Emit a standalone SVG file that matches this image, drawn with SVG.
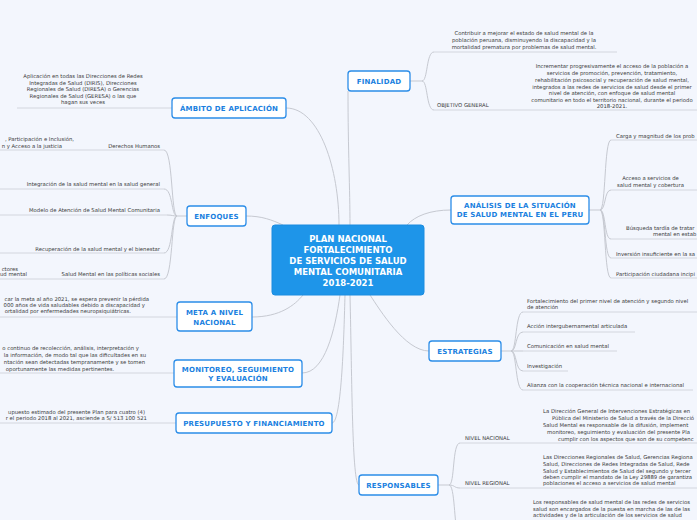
<svg xmlns="http://www.w3.org/2000/svg" width="697" height="520" viewBox="0 0 697 520">
<style>
.bg{fill:#f3f6fd}
.c{fill:none;stroke:#c6c9d1;stroke-width:1}
.u{fill:none;stroke:#d3d6de;stroke-width:1}
.node rect{fill:#ffffff;stroke:#2b8de8;stroke-width:1.3}
.lbl{font-family:"DejaVu Sans",sans-serif;font-weight:bold;font-size:7px;fill:#1a7fe0;text-anchor:middle;letter-spacing:0.2px}
.leaf{font-family:"DejaVu Sans",sans-serif;font-size:5.3px;fill:#3a3a3a}
.m{text-anchor:middle}
.e{text-anchor:end}
.ctr rect{fill:#1e95e9;stroke:#1b8ce0;stroke-width:1}
.ctxt{font-family:"DejaVu Sans",sans-serif;font-weight:bold;font-size:8.5px;fill:#ffffff;text-anchor:middle}
</style>
<rect class="bg" x="0" y="0" width="697" height="520"/>
<g id="connectors">
<path class="c" d="M286,108 C320,108 339,170 339,225"/>
<path class="c" d="M348,91 C348,150 350,190 350,225"/>
<path class="c" d="M246,216 C262,216 272,220 283,225"/>
<path class="c" d="M451,210 C430,210 415,216 407,225"/>
<path class="c" d="M252,317 C280,317 295,305 303,295"/>
<path class="c" d="M302,373 C325,373 335,330 340,295"/>
<path class="c" d="M332,423 C342,423 344,330 345,295"/>
<path class="c" d="M359,485 C352,485 352,380 350,295"/>
<path class="c" d="M429,351 C405,351 380,310 370,295"/>
<!-- ambito -->
<path class="u" d="M172,108 L17,108"/>
<!-- enfoques -->
<path class="c" d="M187,216 L177,216 C171,216 173,150 164,150"/>
<path class="c" d="M177,216 C171,216 173,189 164,189"/>
<path class="c" d="M177,216 C173,216 172,215 167,215"/>
<path class="c" d="M177,216 C171,216 173,253 164,253"/>
<path class="c" d="M177,216 C171,216 173,279 164,279"/>
<path class="u" d="M164,150 L0,150 M164,189 L0,189 M167,215 L0,215 M164,253 L0,253 M164,279 L0,279"/>
<!-- meta / monitoreo / presupuesto -->
<path class="u" d="M177,317 L0,317 M174,373 L0,373 M176,423 L0,423"/>
<!-- finalidad -->
<path class="c" d="M410,81 L422,81 C428,81 426,52 434,52"/>
<path class="c" d="M422,81 C428,81 426,110 434,110"/>
<path class="u" d="M434,52 L617,52 M434,110 L697,110"/>
<!-- analisis -->
<path class="c" d="M589,210 L600,210 C606,210 604,140 611,140"/>
<path class="c" d="M600,210 C606,210 604,190 611,190"/>
<path class="c" d="M600,210 C606,210 604,239 611,239"/>
<path class="c" d="M600,210 C606,210 604,258 611,258"/>
<path class="c" d="M600,210 C606,210 604,278 611,278"/>
<path class="u" d="M611,140 L697,140 M611,190 L697,190 M611,239 L697,239 M611,258 L697,258 M611,278 L697,278"/>
<!-- estrategias -->
<path class="c" d="M501,351 L511,351 C517,351 515,312 523,312"/>
<path class="c" d="M511,351 C517,351 515,332 523,332"/>
<path class="c" d="M511,351 L523,351"/>
<path class="c" d="M511,351 C517,351 515,371 523,371"/>
<path class="c" d="M511,351 C517,351 515,390 523,390"/>
<path class="u" d="M523,312 L697,312 M523,332 L635,332 M523,351 L617,351 M523,371 L568,371 M523,390 L693,390"/>
<!-- responsables -->
<path class="c" d="M438,485 L449,485 C455,485 452,443 460,443"/>
<path class="c" d="M449,485 C455,485 454,488 460,488"/>
<path class="c" d="M449,485 C455,485 454,525 458,535"/>
<path class="u" d="M460,443 L697,443 M460,488 L697,488"/>
</g>
<g id="center" class="ctr">
<rect x="272" y="225" width="152" height="70" rx="3"/>
<text class="ctxt" x="348" y="242">PLAN NACIONAL</text>
<text class="ctxt" x="348" y="253">FORTALECIMIENTO</text>
<text class="ctxt" x="348" y="264">DE SERVICIOS DE SALUD</text>
<text class="ctxt" x="348" y="275">MENTAL COMUNITARIA</text>
<text class="ctxt" x="348" y="286">2018-2021</text>
</g>
<g id="n-finalidad" class="node">
<rect x="348" y="71" width="62" height="20" rx="3"/>
<text class="lbl" x="379" y="83.5">FINALIDAD</text>
</g>
<g id="n-ambito" class="node">
<rect x="172" y="98" width="114" height="20" rx="3"/>
<text class="lbl" x="229" y="110.5">ÁMBITO DE APLICACIÓN</text>
</g>
<g id="n-enfoques" class="node">
<rect x="187" y="206" width="59" height="20" rx="3"/>
<text class="lbl" x="216.5" y="218.5">ENFOQUES</text>
</g>
<g id="n-meta" class="node">
<rect x="177" y="302" width="75" height="29" rx="3"/>
<text class="lbl" x="214.5" y="315">META A NIVEL</text>
<text class="lbl" x="214.5" y="324.5">NACIONAL</text>
</g>
<g id="n-monitoreo" class="node">
<rect x="174" y="360" width="128" height="27" rx="3"/>
<text class="lbl" x="238" y="371.5">MONITOREO, SEGUIMIENTO</text>
<text class="lbl" x="238" y="381">Y EVALUACIÓN</text>
</g>
<g id="n-presupuesto" class="node">
<rect x="176" y="413" width="156" height="20" rx="3"/>
<text class="lbl" x="254" y="425.5">PRESUPUESTO Y FINANCIAMIENTO</text>
</g>
<g id="n-analisis" class="node">
<rect x="451" y="196" width="138" height="28" rx="3"/>
<text class="lbl" x="520" y="207.5">ANÁLISIS DE LA SITUACIÓN</text>
<text class="lbl" x="520" y="217">DE SALUD MENTAL EN EL PERU</text>
</g>
<g id="n-estrategias" class="node">
<rect x="429" y="341" width="72" height="20" rx="3"/>
<text class="lbl" x="465" y="353.5">ESTRATEGIAS</text>
</g>
<g id="n-responsables" class="node">
<rect x="359" y="475" width="79" height="20" rx="3"/>
<text class="lbl" x="398.5" y="487.5">RESPONSABLES</text>
</g>
<g id="leaves-ambito">
<text class="leaf m" x="83" y="78">Aplicación en todas las Direcciones de Redes</text>
<text class="leaf m" x="83" y="84.5">Integradas de Salud (DIRIS), Direcciones</text>
<text class="leaf m" x="83" y="91">Regionales de Salud (DIRESA) o Gerencias</text>
<text class="leaf m" x="83" y="97.5">Regionales de Salud (GERESA) o las que</text>
<text class="leaf m" x="83" y="104">hagan sus veces</text>
</g>
<g id="leaves-enfoques">
<text class="leaf e" x="160" y="147.5">Derechos Humanos</text>
<text class="leaf e" x="74" y="141">, Participación e Inclusión,</text>
<text class="leaf e" x="62" y="147.5">n y Acceso a la justicia</text>
<text class="leaf e" x="160" y="186">Integración de la salud mental en la salud general</text>
<text class="leaf e" x="160" y="212">Modelo de Atención de Salud Mental Comunitaria</text>
<text class="leaf e" x="160" y="251">Recuperación de la salud mental y el bienestar</text>
<text class="leaf e" x="160" y="276">Salud Mental en las políticas sociales</text>
<text class="leaf e" x="18" y="271">ctores</text>
<text class="leaf e" x="27" y="276">ud mental</text>
</g>
<g id="leaves-meta">
<text class="leaf e" x="149" y="301">car la meta al año 2021, se espera prevenir la pérdida</text>
<text class="leaf e" x="145" y="307">000 años de vida saludables debido a discapacidad y</text>
<text class="leaf e" x="131" y="313">ortalidad por enfermedades neuropsiquiátricas.</text>
</g>
<g id="leaves-monitoreo">
<text class="leaf e" x="139" y="350">o continuo de recolección, análisis, interpretación y</text>
<text class="leaf e" x="146" y="357">la información, de modo tal que las dificultades en su</text>
<text class="leaf e" x="145" y="364">ntación sean detectadas tempranamente y se tomen</text>
<text class="leaf m" x="60" y="371">oportunamente las medidas pertinentes.</text>
</g>
<g id="leaves-presupuesto">
<text class="leaf e" x="145" y="413.5">upuesto estimado del presente Plan para cuatro (4)</text>
<text class="leaf e" x="147" y="420">r el periodo 2018 al 2021, asciende a S/ 513 100 521</text>
</g>
<g id="leaves-finalidad">
<text class="leaf m" x="524" y="35">Contribuir a mejorar el estado de salud mental de la</text>
<text class="leaf m" x="524" y="42">población peruana, disminuyendo la discapacidad y la</text>
<text class="leaf m" x="524" y="48.5">mortalidad prematura por problemas de salud mental.</text>
<text class="leaf" x="437" y="107">OBJETIVO GENERAL</text>
<text class="leaf m" x="612" y="67.5">Incrementar progresivamente el acceso de la población a</text>
<text class="leaf m" x="612" y="75">servicios de promoción, prevención, tratamiento,</text>
<text class="leaf m" x="612" y="82">rehabilitación psicosocial y recuperación de salud mental,</text>
<text class="leaf m" x="612" y="88.5">integrados a las redes de servicios de salud desde el primer</text>
<text class="leaf m" x="612" y="95">nivel de atención, con enfoque de salud mental</text>
<text class="leaf m" x="612" y="102">comunitario en todo el territorio nacional, durante el periodo</text>
<text class="leaf m" x="612" y="108">2018-2021.</text>
</g>
<g id="leaves-analisis">
<text class="leaf" x="616" y="137.5">Carga y magnitud de los prob</text>
<text class="leaf m" x="650.5" y="179.5">Acceso a servicios de</text>
<text class="leaf m" x="650.5" y="187">salud mental y cobertura</text>
<text class="leaf" x="626" y="229.5">Búsqueda tardía de tratar</text>
<text class="leaf" x="653" y="236">mental en estab</text>
<text class="leaf" x="616" y="256">Inversión insuficiente en la sa</text>
<text class="leaf" x="616" y="276">Participación ciudadana incipi</text>
</g>
<g id="leaves-estrategias">
<text class="leaf" x="527" y="302.5">Fortalecimiento del primer nivel de atención y segundo nivel</text>
<text class="leaf" x="527" y="309">de atención</text>
<text class="leaf" x="527" y="328">Acción intergubernamental articulada</text>
<text class="leaf" x="527" y="348">Comunicación en salud mental</text>
<text class="leaf" x="527" y="367.5">Investigación</text>
<text class="leaf" x="527" y="387">Alianza con la cooperación técnica nacional e internacional</text>
</g>
<g id="leaves-responsables">
<text class="leaf" x="465" y="440">NIVEL NACIONAL</text>
<text class="leaf" x="543" y="413">La Dirección General de Intervenciones Estratégicas en</text>
<text class="leaf" x="552" y="420">Pública del Ministerio de Salud a través de la Direcció</text>
<text class="leaf" x="543" y="427">Salud Mental es responsable de la difusión, implement</text>
<text class="leaf" x="547" y="434">monitoreo, seguimiento y evaluación del presente Pla</text>
<text class="leaf" x="558" y="440.5">cumplir con los aspectos que son de su competenc</text>
<text class="leaf" x="465" y="485">NIVEL REGIONAL</text>
<text class="leaf" x="543" y="459">Las Direcciones Regionales de Salud, Gerencias Regiona</text>
<text class="leaf" x="543" y="466">Salud, Direcciones de Redes Integradas de Salud, Rede</text>
<text class="leaf" x="543" y="472.5">Salud y Establecimientos de Salud del segundo y tercer</text>
<text class="leaf" x="543" y="479">deben cumplir el mandato de la Ley 29889 de garantiza</text>
<text class="leaf" x="543" y="485">poblaciones el acceso a servicios de salud mental</text>
<text class="leaf" x="533" y="504">Los responsables de salud mental de las redes de servicios</text>
<text class="leaf" x="533" y="510.5">salud son encargados de la puesta en marcha de las de las</text>
<text class="leaf" x="533" y="517">actividades y de la articulación de los servicios de salud</text>
</g>
</svg>
